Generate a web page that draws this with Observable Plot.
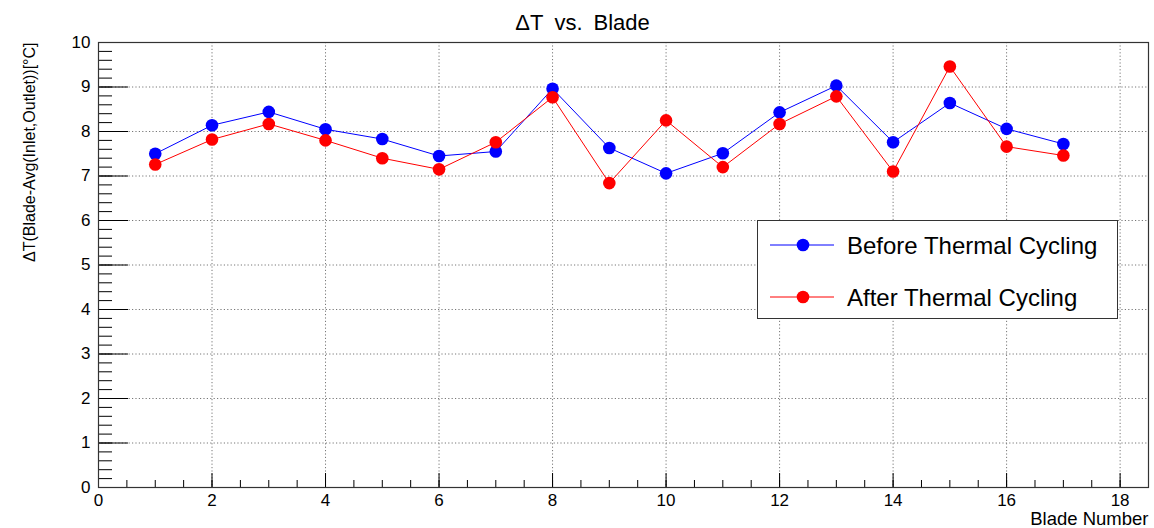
<!DOCTYPE html>
<html>
<head>
<meta charset="utf-8">
<script src="https://cdn.jsdelivr.net/npm/d3@7"></script>
<script src="https://cdn.jsdelivr.net/npm/@observablehq/plot@0.6"></script>
<style>
  html, body { margin: 0; padding: 0; background: #fff; }
  #wrap { position: relative; width: 1154px; height: 528px; font-family: "Liberation Sans", Arial, sans-serif; }
  #legend { position: absolute; left: 757px; top: 220px; width: 361px; height: 99px; border: 1px solid #333; background: #fff; box-sizing: border-box; }
  .entry { position: absolute; left: 0; height: 30px; width: 100%; }
  .entry svg { position: absolute; left: 12px; top: 0; }
  .entry span { position: absolute; left: 89px; top: 3px; font-size: 24px; line-height: 26px; color: #000; white-space: nowrap; }
</style>
</head>
<body>
<div id="wrap"></div>
<script>
// ---- data ----
const blades = [1, 2, 3, 4, 5, 6, 7, 8, 9, 10, 11, 12, 13, 14, 15, 16, 17];
const before = [7.50, 8.14, 8.44, 8.05, 7.83, 7.45, 7.55, 8.96, 7.63, 7.06, 7.51, 8.43, 9.03, 7.76, 8.64, 8.06, 7.72];
const after  = [7.26, 7.82, 8.17, 7.80, 7.40, 7.15, 7.76, 8.77, 6.84, 8.25, 7.20, 8.17, 8.79, 7.10, 9.46, 7.66, 7.46];
const seriesNames = ["Before Thermal Cycling", "After Thermal Cycling"];
const seriesColors = ["#0000ff", "#ff0000"];
const titleText = "\u0394T\u2002vs.\u2002Blade";
const xLabel = "Blade Number";
const yLabel = "\u0394T(Blade-Avg(Inlet,Outlet))[\u00b0C]";
const xMajorTicks = [0, 2, 4, 6, 8, 10, 12, 14, 16, 18];
const yMajorTicks = [0, 1, 2, 3, 4, 5, 6, 7, 8, 9, 10];
const xMinorTicks = d3.range(0, 18.5001, 0.5);
const yMinorTicks = d3.range(0, 10.0001, 0.2);

const W = 1154, H = 528;
const mt = 42, mb = 41, ml = 98, mr = 6;
const frameW = W - ml - mr, frameH = H - mt - mb;

const rowsBefore = blades.map((b, i) => ({blade: b, value: before[i]}));
const rowsAfter = blades.map((b, i) => ({blade: b, value: after[i]}));

const gridStyle = {stroke: "#777", strokeOpacity: 1, strokeWidth: 1, strokeDasharray: "1.2,2.2"};

const chart = Plot.plot({
  width: W, height: H,
  marginTop: mt, marginBottom: mb, marginLeft: ml, marginRight: mr,
  style: {fontFamily: "Liberation Sans, Arial, sans-serif", fontSize: "17px", background: "#fff", color: "#000", overflow: "visible"},
  x: {domain: [0, 18.5]},
  y: {domain: [0, 10]},
  marks: [
    Plot.gridX(xMajorTicks.filter(d => d > 0), gridStyle),
    Plot.gridY(yMajorTicks.filter(d => d > 0 && d < 10), gridStyle),
    // inward minor / major ticks
    Plot.ruleX(xMinorTicks, {x: d => d, insetTop: frameH - 7, stroke: "#000"}),
    Plot.ruleX(xMajorTicks, {x: d => d, insetTop: frameH - 14, stroke: "#000"}),
    Plot.ruleY(yMinorTicks, {y: d => d, insetRight: frameW - 14, stroke: "#000"}),
    Plot.ruleY(yMajorTicks, {y: d => d, insetRight: frameW - 30, stroke: "#000"}),
    Plot.axisX(xMajorTicks, {tickSize: 0, tickPadding: 6, label: null, fontSize: 17}),
    Plot.axisY(yMajorTicks, {tickSize: 0, tickPadding: 8, label: null, fontSize: 17}),
    Plot.frame({stroke: "#333", strokeWidth: 1.2}),
    Plot.line(rowsBefore, {x: "blade", y: "value", stroke: seriesColors[0], strokeWidth: 1}),
    Plot.dot(rowsBefore, {x: "blade", y: "value", r: 6.3, fill: seriesColors[0], stroke: null}),
    Plot.line(rowsAfter, {x: "blade", y: "value", stroke: seriesColors[1], strokeWidth: 1}),
    Plot.dot(rowsAfter, {x: "blade", y: "value", r: 6.3, fill: seriesColors[1], stroke: null}),
    Plot.text([titleText], {frameAnchor: "top-left", dx: 484, dy: -20, textAnchor: "middle", lineAnchor: "middle", fontSize: 22}),
    Plot.text([xLabel], {frameAnchor: "bottom-right", dx: 0, dy: 32, textAnchor: "end", lineAnchor: "middle", fontSize: 18.5}),
    Plot.text([yLabel], {frameAnchor: "top-left", dx: -69, dy: 0, rotate: -90, textAnchor: "end", lineAnchor: "middle", fontSize: 16})
  ]
});

const wrap = document.getElementById("wrap");
wrap.appendChild(chart);

// legend
const legend = document.createElement("div");
legend.id = "legend";
seriesNames.forEach((name, i) => {
  const e = document.createElement("div");
  e.className = "entry";
  e.style.top = (i === 0 ? 9 : 61) + "px";
  e.innerHTML =
    `<svg width="66" height="30"><line x1="0" y1="15" x2="64" y2="15" stroke="${seriesColors[i]}" stroke-width="1"/>` +
    `<circle cx="33" cy="15" r="6.3" fill="${seriesColors[i]}"/></svg><span>${name}</span>`;
  legend.appendChild(e);
});
wrap.appendChild(legend);
</script>
</body>
</html>
